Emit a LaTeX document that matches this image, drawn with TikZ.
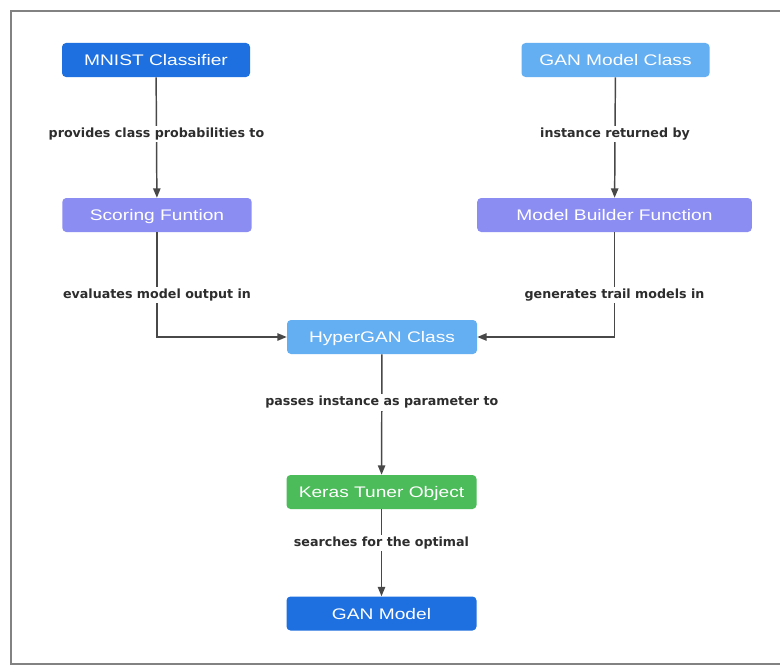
\documentclass[tikz,border=0pt]{standalone}
\usepackage{fontspec}
\setmainfont{Liberation Sans}
\newfontfamily\boxfont[FakeStretch=1.25]{Liberation Sans}
\newfontfamily\lblfont{DejaVu Sans}
\usetikzlibrary{arrows.meta}
\definecolor{dblue}{RGB}{30,112,224}
\definecolor{lblue}{RGB}{100,174,242}
\definecolor{purp}{RGB}{140,141,242}
\definecolor{grn}{RGB}{76,187,90}
\definecolor{edgec}{RGB}{72,72,72}
\definecolor{lblc}{RGB}{45,45,45}
\definecolor{framec}{RGB}{130,130,130}
\tikzset{
  box/.style={rounded corners=3pt, minimum height=25.5pt, inner sep=0pt,
    text height=8.3pt, text depth=0pt,
    text=white, font=\boxfont\fontsize{11.5pt}{13pt}\selectfont},
  arr/.style={draw=edgec, line width=1.1pt, -{Triangle[length=7pt,width=5.5pt]}},
  lbl/.style={fill=white, text=lblc, inner sep=1.5pt,
    font=\lblfont\bfseries\fontsize{9.5pt}{11pt}\selectfont}
}
\begin{document}
\begin{tikzpicture}[x=0.75pt,y=-0.75pt]
\useasboundingbox (0,0) rectangle (780,667);
\fill[white] (0,0) rectangle (780,667);
\draw[framec, line width=1.6pt] (800,11) -- (11,11) -- (11,664) -- (800,664);

\node[box, fill=dblue, minimum width=141pt] (mnist) at (156,60) {MNIST Classifier};
\node[box, fill=lblue, minimum width=141pt] (ganclass) at (615.5,60) {GAN Model Class};
\node[box, fill=purp, minimum width=142pt] (scoring) at (157,215) {Scoring Funtion};
\node[box, fill=purp, minimum width=206pt] (builder) at (614.5,215) {Model Builder Function};
\node[box, fill=lblue, minimum width=142.5pt] (hyper) at (382,337) {HyperGAN Class};
\node[box, fill=grn, minimum width=142.5pt] (keras) at (381.5,492) {Keras Tuner Object};
\node[box, fill=dblue, minimum width=142.5pt] (gan) at (381.5,613.5) {GAN Model};

\draw[arr] (mnist) -- node[lbl, pos=0.47] {provides class probabilities to} (scoring);
\draw[arr] (ganclass) -- node[lbl, pos=0.47] {instance returned by} (builder);
\draw[arr] (scoring) |- node[lbl, pos=0.3] {evaluates model output in} (hyper);
\draw[arr] (builder) |- node[lbl, pos=0.3] {generates trail models in} (hyper);
\draw[arr] (hyper) -- node[lbl, pos=0.4] {passes instance as parameter to} (keras);
\draw[arr] (keras) -- node[lbl, pos=0.39] {searches for the optimal} (gan);
\end{tikzpicture}
\end{document}
